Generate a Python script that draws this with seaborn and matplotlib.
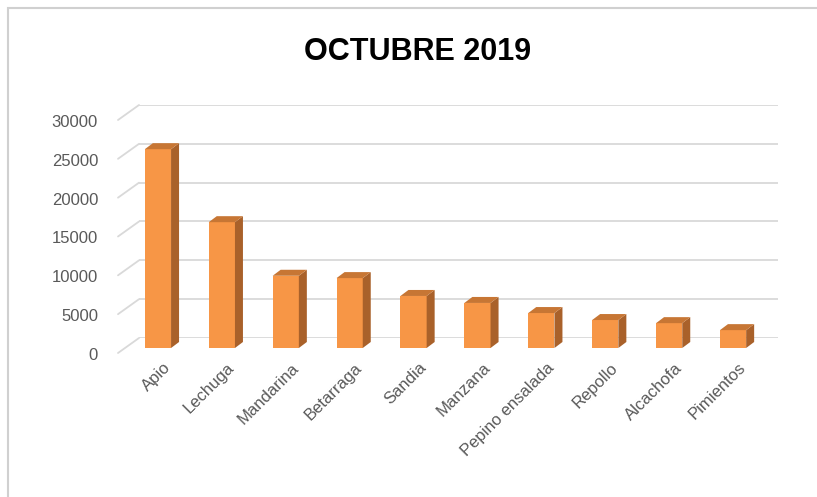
import matplotlib
matplotlib.use("Agg")
import matplotlib.pyplot as plt
from matplotlib.patches import Polygon, Rectangle
from matplotlib.transforms import ScaledTranslation
import seaborn as sns
import pandas as pd

# data
productos = ['Apio', 'Lechuga', 'Mandarina', 'Betarraga', 'Sandia', 'Manzana',
             'Pepino ensalada', 'Repollo', 'Alcachofa', 'Pimientos']
cantidad = [25600, 16200, 9300, 9000, 6700, 5800, 4500, 3600, 3200, 2300]
y_ticks = [0, 5000, 10000, 15000, 20000, 25000, 30000]
titulo = 'OCTUBRE 2019'

df = pd.DataFrame({'producto': productos, 'cantidad': cantidad})

sns.set_theme(style='white')
plt.rcParams['font.family'] = ['Liberation Sans', 'DejaVu Sans']

W, H, DPI = 817, 497, 100
fig = plt.figure(figsize=(W / DPI, H / DPI), dpi=DPI)
ax = fig.add_axes([139 / W, 159 / H, 639 / W, 233 / H])

sns.barplot(data=df, x='producto', y='cantidad', color='#F79646', width=0.41,
            saturation=1, linewidth=0, ax=ax)

ax.set_xlim(-0.5, 9.5)
ax.set_ylim(0, 30000)
ax.set_yticks(y_ticks)
ax.set_yticklabels([str(v) for v in y_ticks])
ax.set_xlabel('')
ax.set_ylabel('')
sns.despine(ax=ax, left=True, bottom=True)
ax.yaxis.grid(True, color='#d9d9d9', lw=1.3)
ax.set_axisbelow(True)

# px -> data factors
px_x = 1 / 63.9
px_y = 30000 / 233

# 3d look: shift front faces, add side and top faces
shift = ScaledTranslation(-13 / DPI, -10 / DPI, fig.dpi_scale_trans)
dx, dy = 8 * px_x, 6 * px_y
for p in list(ax.patches):
    x0, w, h = p.get_x(), p.get_width(), p.get_height()
    tr = ax.transData + shift
    p.set_transform(tr)
    p.set_edgecolor('none')
    p.set_clip_on(False)
    p.set_zorder(3)
    side = Polygon([(x0 + w, 0), (x0 + w + dx, dy), (x0 + w + dx, h + dy), (x0 + w, h)],
                   closed=True, fc='#A9612A', ec='none', transform=tr, clip_on=False, zorder=3)
    top = Polygon([(x0, h), (x0 + w, h), (x0 + w + dx, h + dy), (x0 + dx, h + dy)],
                  closed=True, fc='#C77634', ec='none', transform=tr, clip_on=False, zorder=3)
    ax.add_patch(side)
    ax.add_patch(top)

# left wall lines
for v in y_ticks:
    ax.plot([-0.5 - 21 * px_x, -0.5], [v - 15 * px_y, v], color='#d9d9d9', lw=1.3,
            clip_on=False, zorder=1)

ax.tick_params(axis='y', length=0, pad=29.5, labelsize=12, labelcolor='#595959')
ax.tick_params(axis='x', length=0, pad=0, labelsize=12, labelcolor='#595959')
for lab in ax.get_yticklabels():
    lab.set_transform(lab.get_transform() + ScaledTranslation(0, -16 / DPI, fig.dpi_scale_trans))
for lab in ax.get_xticklabels():
    lab.set_rotation(45)
    lab.set_ha('right')
    lab.set_va('top')
    lab.set_rotation_mode('anchor')
    lab.set_transform(lab.get_transform() + ScaledTranslation(-8 / DPI, -22 / DPI, fig.dpi_scale_trans))

fig.text(418 / W, 1 - 60 / H, titulo, ha='center', va='baseline', fontsize=22,
         fontweight='bold', color='black')

fig.patches.append(Rectangle((8 / W, -0.1), 1.2, 1 - 8 / H + 0.1, transform=fig.transFigure,
                             fill=False, ec='#d0d0d0', lw=1.5))

fig.savefig('out.png', dpi=DPI)
